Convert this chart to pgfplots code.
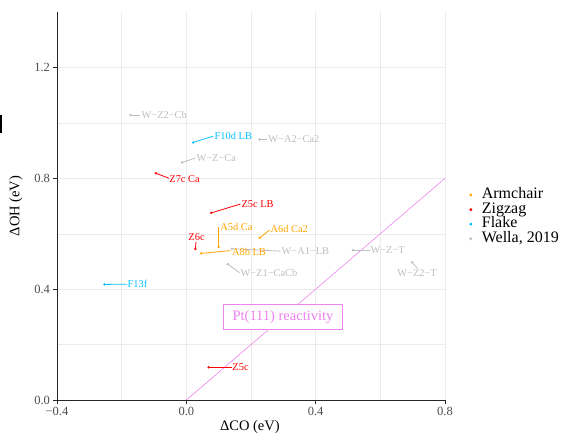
\documentclass[border=0pt]{standalone}
\usepackage{pgfplots}
\pgfplotsset{compat=1.18}
\usepackage{pgfplotstable}
\usepackage{fontspec}
\setmainfont{Liberation Serif}
\definecolor{armc}{HTML}{FFA500}
\definecolor{zigc}{HTML}{FF0000}
\definecolor{flkc}{HTML}{00BFFF}
\definecolor{welc}{HTML}{BEBEBE}
\definecolor{ptc}{HTML}{EE82EE}
\definecolor{gridc}{HTML}{EBEBEB}
\definecolor{tickc}{HTML}{4D4D4D}

% x,y = data point; sx,sy = segment end; tx,ty = label west anchor
\pgfplotstableread[col sep=comma]{
x,y,sx,sy,tx,ty,label
0.100,0.552,0.100,0.624,0.105,0.625,A5d Ca
0.227,0.585,0.257,0.613,0.260,0.619,A6d Ca2
0.046,0.529,0.136,0.539,0.141,0.535,A8b LB
}\armtab
\pgfplotstableread[col sep=comma]{
x,y,sx,sy,tx,ty,label
-0.094,0.818,-0.053,0.800,-0.053,0.798,Z7c Ca
0.077,0.675,0.167,0.707,0.170,0.707,Z5c LB
0.028,0.545,0.030,0.571,0.006,0.587,Z6c
0.069,0.118,0.141,0.118,0.142,0.118,Z5c
}\zigtab
\pgfplotstableread[col sep=comma]{
x,y,sx,sy,tx,ty,label
0.021,0.929,0.083,0.952,0.087,0.952,F10d LB
-0.253,0.417,-0.183,0.418,-0.182,0.418,F13f
}\flktab
\pgfplotstableread[col sep=comma]{
x,y,sx,sy,tx,ty,label
-0.173,1.028,-0.142,1.028,-0.139,1.028,W−Z2−Cb
0.227,0.940,0.249,0.940,0.253,0.940,W−A2−Ca2
-0.013,0.857,0.028,0.873,0.031,0.873,W−Z−Ca
0.141,0.546,0.291,0.537,0.294,0.537,W−A1−LB
0.128,0.490,0.165,0.459,0.167,0.458,W−Z1−CaCb
0.515,0.541,0.567,0.541,0.569,0.541,W−Z−T
0.698,0.497,0.715,0.475,0.652,0.457,W−Z2−T
}\weltab

\pgfplotsset{
  dotlegend/.style={legend image code/.code={%
    \path[draw=none,fill=none] (-1.6pt,-0.1pt) rectangle (11pt,0.1pt);
    \path[draw=none,fill=##1] (0pt,0pt) circle (1.6pt);}},
}

\begin{document}
\begin{tikzpicture}
\path[use as bounding box] (0pt,0pt) rectangle (565pt,434pt);
\draw[line width=2pt] (1pt,319pt) -- (1pt,301pt);
\begin{axis}[
 at={(57pt,34pt)}, anchor=south west, scale only axis,
 width=388pt, height=388pt,
 xmin=-0.4, xmax=0.8, ymin=0, ymax=1.4,
 xtick={-0.4,0,0.4,0.8}, xticklabels={−0.4,0.0,0.4,0.8},
 ytick={0,0.4,0.8,1.2}, yticklabels={0.0,0.4,0.8,1.2},
 minor xtick={-0.2,0.2,0.6}, minor ytick={0.2,0.6,1.0},
 grid=both,
 major grid style={gridc, line width=0.6pt},
 minor grid style={gridc, line width=0.4pt},
 axis x line*=bottom, axis y line*=left,
 axis line style={black!85, line width=0.8pt, -},
 tick align=outside, major tick length=3.5pt, minor tick length=0pt,
 tick style={black!85, line width=0.6pt},
 ticklabel style={text=tickc, font=\fontsize{12.5}{12.5}\selectfont},
 xlabel={ΔCO (eV)}, ylabel={ΔOH (eV)},
 label style={font=\fontsize{14.5}{14.5}\selectfont},
 xlabel style={at={(axis description cs:0.497,-0.069)}, anchor=center},
 ylabel style={at={(axis description cs:-0.106,0.5)}, anchor=center},
 legend style={at={(axis description cs:1.062,0.472)}, anchor=west,
   draw=none, fill=none, inner sep=0pt, row sep=0pt,
   font=\fontsize{16}{16}\selectfont,
   nodes={text height=11pt, text depth=3.6pt, inner sep=0pt}},
 legend cell align=left,
]
% reference line
\addplot[ptc, line width=0.6pt, forget plot] coordinates {(0,0) (0.8,0.8)};
% segments
\addplot[armc, line width=0.8pt, forget plot, quiver={u=\thisrow{sx}-\thisrow{x}, v=\thisrow{sy}-\thisrow{y}}] table[x=x,y=y] {\armtab};
\addplot[zigc, line width=0.8pt, forget plot, quiver={u=\thisrow{sx}-\thisrow{x}, v=\thisrow{sy}-\thisrow{y}}] table[x=x,y=y] {\zigtab};
\addplot[flkc, line width=0.8pt, forget plot, quiver={u=\thisrow{sx}-\thisrow{x}, v=\thisrow{sy}-\thisrow{y}}] table[x=x,y=y] {\flktab};
\addplot[welc, line width=0.8pt, forget plot, quiver={u=\thisrow{sx}-\thisrow{x}, v=\thisrow{sy}-\thisrow{y}}] table[x=x,y=y] {\weltab};
% points
\addplot[armc, only marks, mark=*, mark size=1pt, dotlegend=armc] table[x=x,y=y] {\armtab};
\addlegendentry{Armchair}
\addplot[zigc, only marks, mark=*, mark size=1pt, dotlegend=zigc] table[x=x,y=y] {\zigtab};
\addlegendentry{Zigzag}
\addplot[flkc, only marks, mark=*, mark size=1pt, dotlegend=flkc] table[x=x,y=y] {\flktab};
\addlegendentry{Flake}
\addplot[welc, only marks, mark=*, mark size=1pt, dotlegend=welc] table[x=x,y=y] {\weltab};
\addlegendentry{Wella, 2019}
% labels
\addplot[draw=none, mark=none, forget plot, nodes near coords, point meta=explicit symbolic,
  nodes near coords style={anchor=west, inner sep=0pt, text=armc, font=\fontsize{10.4}{10.4}\selectfont}]
  table[x=tx,y=ty,meta=label] {\armtab};
\addplot[draw=none, mark=none, forget plot, nodes near coords, point meta=explicit symbolic,
  nodes near coords style={anchor=west, inner sep=0pt, text=zigc, font=\fontsize{10.4}{10.4}\selectfont}]
  table[x=tx,y=ty,meta=label] {\zigtab};
\addplot[draw=none, mark=none, forget plot, nodes near coords, point meta=explicit symbolic,
  nodes near coords style={anchor=west, inner sep=0pt, text=flkc, font=\fontsize{10.4}{10.4}\selectfont}]
  table[x=tx,y=ty,meta=label] {\flktab};
\addplot[draw=none, mark=none, forget plot, nodes near coords, point meta=explicit symbolic,
  nodes near coords style={anchor=west, inner sep=0pt, text=welc, font=\fontsize{10.4}{10.4}\selectfont}]
  table[x=tx,y=ty,meta=label] {\weltab};
\node[draw=ptc, fill=white, text=ptc, line width=0.5pt, inner sep=0pt,
  minimum width=119pt, minimum height=24.7pt, font=\fontsize{14.5}{14.5}\selectfont]
  at (axis cs:0.299,0.300) {Pt(111) reactivity};
\end{axis}
\end{tikzpicture}
\end{document}
